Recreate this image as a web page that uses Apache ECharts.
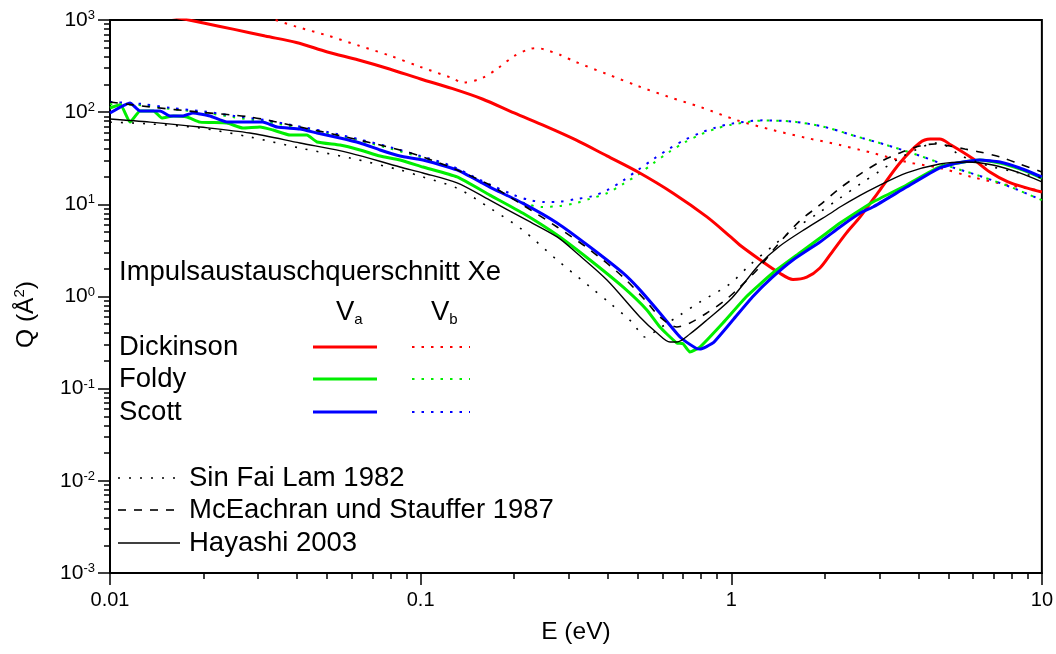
<!DOCTYPE html>
<html><head><meta charset="utf-8">
<script src="https://cdn.jsdelivr.net/npm/echarts@6/dist/echarts.min.js"></script>
<style>html,body{margin:0;padding:0;background:#fff}#c{width:1056px;height:654px}</style>
</head><body><div id="c"></div><script>
// ---- data (E in eV, Q in Å²) ----
const xTickLabels = ['0.01', '0.1', '1', '10'];
const yTickExponents = [-3, -2, -1, 0, 1, 2, 3];

const dickinsonVa = [[0.01,1500],[0.02,927],[0.0251,791],[0.0316,670],[0.0398,570],[0.0501,450],[0.0631,368],[0.0794,294],[0.1,229],[0.126,181],[0.158,139],[0.2,98],[0.251,71],[0.316,50],[0.398,33.5],[0.501,22.4],[0.65,13.2],[0.835,7.3],[1.0,4.37],[1.065,3.62],[1.24,2.49],[1.43,1.8],[1.58,1.53],[1.75,1.62],[1.93,2.04],[2.1,2.96],[2.35,4.9],[2.6,7.3],[3.01,14.3],[3.49,28.1],[4.04,46.3],[4.37,51],[4.69,51],[5.1,44],[5.95,31.8],[6.8,22.4],[7.78,17.5],[8.98,15.0],[10,13.6]];
const dickinsonVb = [[0.02,1820],[0.0251,1420],[0.0316,1090],[0.0398,846],[0.0501,679],[0.0631,529],[0.0794,412],[0.1,309],[0.126,235],[0.137,209],[0.158,235],[0.178,302],[0.2,406],[0.224,484],[0.237,495],[0.251,478],[0.282,417],[0.316,350],[0.398,259],[0.501,192],[0.631,146],[0.794,114],[1.04,82],[1.36,64],[1.75,52.5],[2.24,44],[2.6,38.9],[2.86,36],[3.67,28.8],[4.69,24.8],[5.95,19.8],[7.78,16.2],[10,14]];
const foldyVa = [[0.01,111],[0.0108,120],[0.0116,78],[0.0125,103],[0.0138,103],[0.0147,86.5],[0.016,91],[0.0177,88.7],[0.0195,78],[0.0238,76.2],[0.0268,67.3],[0.0304,69],[0.0335,64],[0.038,56.5],[0.043,56.5],[0.0464,47.5],[0.055,44],[0.0638,38.9],[0.074,33.4],[0.0858,30.3],[0.1017,25.4],[0.131,19.8],[0.167,12.6],[0.213,8.05],[0.275,4.65],[0.351,2.49],[0.448,1.27],[0.535,0.715],[0.589,0.467],[0.668,0.313],[0.699,0.308],[0.736,0.25],[0.793,0.283],[0.94,0.516],[1.12,1.0],[1.36,1.8],[1.66,2.96],[2.03,4.89],[2.24,6.27],[2.6,8.7],[2.86,10.6],[3.67,16.2],[4.69,25.4],[6.31,30.3],[7.33,28.1],[8.49,24.2],[10,19.3]];
const foldyVb = [[0.01,122],[0.0126,119],[0.0158,108],[0.02,99],[0.0251,88],[0.0316,79],[0.0398,68.5],[0.0501,59],[0.0631,49.5],[0.0794,40.5],[0.1,32.5],[0.126,25.5],[0.158,17],[0.2,11.4],[0.225,9.85],[0.245,9.35],[0.28,9.6],[0.316,10.3],[0.351,11.5],[0.398,13.2],[0.448,16.6],[0.501,21],[0.562,28],[0.631,37],[0.708,47],[0.794,57],[0.891,66],[1.0,73],[1.26,81],[1.58,79],[2.0,69],[2.51,55],[3.16,44],[3.98,34.3],[5.01,26],[6.31,20.3],[7.94,15.4],[10,11.1]];
const scottVa = [[0.01,98],[0.0116,126],[0.0125,103],[0.0145,103],[0.0156,91],[0.0172,91],[0.0185,98],[0.021,91],[0.0238,78],[0.0268,78],[0.031,78],[0.0345,69],[0.0409,65.6],[0.0464,59.4],[0.055,52.5],[0.0638,46.3],[0.074,38.9],[0.0858,33.4],[0.1017,30.3],[0.131,23.6],[0.167,15.4],[0.213,10.3],[0.275,6.27],[0.351,3.44],[0.448,1.8],[0.508,1.18],[0.589,0.663],[0.684,0.364],[0.77,0.275],[0.793,0.269],[0.873,0.313],[1.012,0.556],[1.174,1.0],[1.36,1.63],[1.58,2.49],[1.93,3.9],[2.24,5.68],[2.6,8.05],[2.86,9.35],[3.67,15.4],[4.69,24.8],[5.33,28.1],[6.31,30.3],[7.33,28.8],[8.49,24.8],[10,19.8]];
const scottVb = [[0.01,129],[0.0126,123],[0.0158,111],[0.02,102],[0.0251,91],[0.0316,82],[0.0398,70.8],[0.0501,61],[0.0631,51],[0.0794,41.9],[0.1,33.4],[0.126,26],[0.158,17.9],[0.2,12.6],[0.225,11.1],[0.251,10.6],[0.28,10.7],[0.316,11.4],[0.355,12.2],[0.398,14.2],[0.447,18],[0.501,23.6],[0.562,31],[0.631,40],[0.708,50],[0.794,59.5],[0.891,68],[1.0,75],[1.26,81.5],[1.58,79],[2.0,69],[2.51,55],[3.16,44],[3.98,34.3],[5.01,26],[6.31,20.3],[7.94,15.4],[10,11.1]];
const sinFaiLam1982 = [[0.01,78],[0.01346,74.5],[0.0195,67.3],[0.0282,53.8],[0.0409,40.8],[0.0593,31.8],[0.0858,23.6],[0.1017,19.8],[0.131,15.0],[0.167,9.12],[0.213,5.27],[0.275,2.49],[0.351,1.27],[0.406,0.851],[0.482,0.516],[0.527,0.364],[0.589,0.455],[0.684,0.63],[0.793,0.871],[0.99,1.37],[1.148,2.2],[1.36,3.53],[1.58,5.27],[1.93,8.26],[2.24,11.7],[2.6,16.6],[3.01,23.0],[3.49,31.8],[3.98,39.8],[4.52,46.3],[4.94,42.9],[5.44,34.3],[6.18,28.8],[6.95,25.4],[7.94,23.0],[10,19.3]];
const mcEachran1987 = [[0.01,129],[0.01346,114],[0.0195,100],[0.0282,88.7],[0.0409,69],[0.0593,52.5],[0.0858,38.9],[0.1017,32.7],[0.131,23.6],[0.167,16.2],[0.213,9.85],[0.275,5.68],[0.351,3.2],[0.448,1.63],[0.535,0.87],[0.589,0.6],[0.668,0.467],[0.736,0.516],[0.835,0.663],[0.94,0.871],[1.043,1.18],[1.227,2.04],[1.40,3.53],[1.66,6.59],[1.93,9.85],[2.24,15.0],[2.6,21.3],[3.01,28.8],[3.49,36.1],[4.04,42.9],[4.52,45.2],[5.06,42.9],[5.65,39.8],[6.31,37.0],[7.33,32.7],[8.49,27.4],[10,22.4]];
const hayashi2003 = [[0.01,84.3],[0.01346,78],[0.0195,69],[0.0282,59.4],[0.0409,46.3],[0.0593,36],[0.0858,25.4],[0.1017,21.9],[0.131,17.1],[0.167,11.1],[0.213,7.11],[0.275,4.43],[0.318,2.96],[0.398,1.51],[0.508,0.6],[0.577,0.402],[0.635,0.321],[0.668,0.321],[0.736,0.392],[0.835,0.556],[1.005,0.964],[1.227,2.2],[1.434,3.53],[1.75,5.53],[2.12,8.26],[2.24,9.35],[2.6,12.5],[2.86,14.8],[3.67,21.9],[4.69,27.4],[5.74,28.8],[6.95,26.7],[8.49,21.9],[10,17.5]];

// ---- styling ----
const FF = '"Liberation Sans", Arial, Helvetica, sans-serif';
const RED = '#ff0000', GREEN = '#00ee00', BLUE = '#0000ff', BLACK = '#000000';
const DOT_C = [2.5, 7], DOT_K = [2, 9], DASH_K = [8, 8];
const LEG = 27.5;

function minorTicks(lo, hi) {
  const out = [];
  for (let e = lo; e < hi; e++) for (let m = 2; m <= 9; m++) out.push(+(m * Math.pow(10, e)).toPrecision(3));
  return out;
}

const chart = echarts.init(document.getElementById('c'), null, {renderer: 'canvas'});

function line(name, data, color, width, type, smooth) {
  return {name, type: 'line', data, xAxisIndex: 0, yAxisIndex: 0, showSymbol: false, symbol: 'none',
    smooth: smooth, clip: true,
    lineStyle: {color, width, type}, emphasis: {disabled: true}};
}

const option = {
  animation: false,
  backgroundColor: '#fff',
  grid: {left: 110, right: 14, top: 20, bottom: 81, show: true, borderColor: '#000', borderWidth: 2},
  xAxis: [{
    type: 'log', logBase: 10, min: 0.01, max: 10, position: 'bottom',
    axisLine: {show: true, onZero: false, lineStyle: {color: '#000', width: 2}},
    axisTick: {show: true, inside: false, length: 12, lineStyle: {color: '#000', width: 1.5}},
    axisLabel: {color: '#000', fontSize: 20, fontFamily: FF, margin: 17,
      formatter: v => xTickLabels[Math.round(Math.log10(v)) + 2]},
    splitLine: {show: false}, minorTick: {show: false},
    name: 'E (eV)', nameLocation: 'middle', nameGap: 47,
    nameTextStyle: {color: '#000', fontSize: 24.5, fontFamily: FF}
  }, {
    type: 'log', logBase: 10, min: 0.01, max: 10, position: 'bottom',
    axisLine: {show: false, onZero: false}, axisLabel: {show: false}, splitLine: {show: false},
    axisTick: {show: true, inside: false, length: 6, customValues: minorTicks(-2, 1), lineStyle: {color: '#000', width: 1.5}}
  }],
  yAxis: [{
    type: 'log', logBase: 10, min: 0.001, max: 1000, position: 'left',
    axisLine: {show: true, onZero: false, lineStyle: {color: '#000', width: 2}},
    axisTick: {show: true, inside: false, length: 12, lineStyle: {color: '#000', width: 1.5}},
    axisLabel: {color: '#000', fontSize: 21, fontFamily: FF, margin: 15,
      formatter: v => '{b|10}{sup|' + yTickExponents[Math.round(Math.log10(v)) + 3] + '}',
      rich: {b: {fontSize: 21, fontFamily: FF, color: '#000', lineHeight: 22},
             sup: {fontSize: 13, fontFamily: FF, color: '#000', lineHeight: 9, verticalAlign: 'top'}}},
    splitLine: {show: false}, minorTick: {show: false},
    name: 'Q (Å{sup|2})', nameLocation: 'middle', nameGap: 70,
    nameTextStyle: {color: '#000', fontSize: 24.5, fontFamily: FF, lineHeight: 28, padding: [0, 36, 0, 0],
      rich: {sup: {fontSize: 15, fontFamily: FF, color: '#000', lineHeight: 12, verticalAlign: 'top'}}}
  }, {
    type: 'log', logBase: 10, min: 0.001, max: 1000, position: 'left',
    axisLine: {show: false, onZero: false}, axisLabel: {show: false}, splitLine: {show: false},
    axisTick: {show: true, inside: false, length: 6, customValues: minorTicks(-3, 3), lineStyle: {color: '#000', width: 1.5}}
  }],
  series: [
    line('Dickinson Vb', dickinsonVb, RED, 2, DOT_C, 0.3),
    line('Foldy Vb', foldyVb, GREEN, 2, DOT_C, 0.3),
    line('Scott Vb', scottVb, BLUE, 2, DOT_C, 0.3),
    line('Dickinson Va', dickinsonVa, RED, 3, 'solid', 0.3),
    line('Foldy Va', foldyVa, GREEN, 3, 'solid', 0.15),
    line('Scott Va', scottVa, BLUE, 3, 'solid', 0.15),
    line('Sin Fai Lam 1982', sinFaiLam1982, BLACK, 1.6, DOT_K, 0.3),
    line('McEachran und Stauffer 1987', mcEachran1987, BLACK, 1.6, DASH_K, 0.3),
    line('Hayashi 2003', hayashi2003, BLACK, 1.4, 'solid', 0.3)
  ],
  graphic: []
};

// ---- legend drawn as graphic elements ----
const G = [];
function txt(x, y, text, size, rich, align) {
  G.push({type: 'text', x, y, silent: true, style: {text, fill: '#000', font: size + 'px ' + FF,
    fontSize: size, fontFamily: FF, align: align || 'left', verticalAlign: 'middle', rich: rich || undefined}});
}
function seg(x1, x2, y, color, width, dash) {
  G.push({type: 'line', silent: true, shape: {x1, y1: y, x2, y2: y},
    style: {stroke: color, lineWidth: width, lineDash: dash || null}});
}
txt(119, 272, 'Impulsaustauschquerschnitt Xe', LEG);
const subRich = {v: {fontSize: LEG, fontFamily: FF, fill: '#000', lineHeight: 30},
                 sub: {fontSize: 15, fontFamily: FF, fill: '#000', lineHeight: 14, verticalAlign: 'bottom'}};
txt(336, 312, '{v|V}{sub|a}', LEG, subRich);
txt(431, 312, '{v|V}{sub|b}', LEG, subRich);
const rowsC = [['Dickinson', RED, 347], ['Foldy', GREEN, 379], ['Scott', BLUE, 412]];
rowsC.forEach(r => { txt(119, r[2], r[0], LEG); seg(313, 377, r[2], r[1], 3); seg(412, 470, r[2], r[1], 2, DOT_C); });
const rowsK = [['Sin Fai Lam 1982', DOT_K, 1.6, 478], ['McEachran und Stauffer 1987', DASH_K, 1.6, 510], ['Hayashi 2003', null, 1.4, 543]];
rowsK.forEach(r => { seg(118, 180, r[3], BLACK, r[2], r[1]); txt(189, r[3], r[0], LEG); });
option.graphic = G;

chart.setOption(option);
</script></body></html>
